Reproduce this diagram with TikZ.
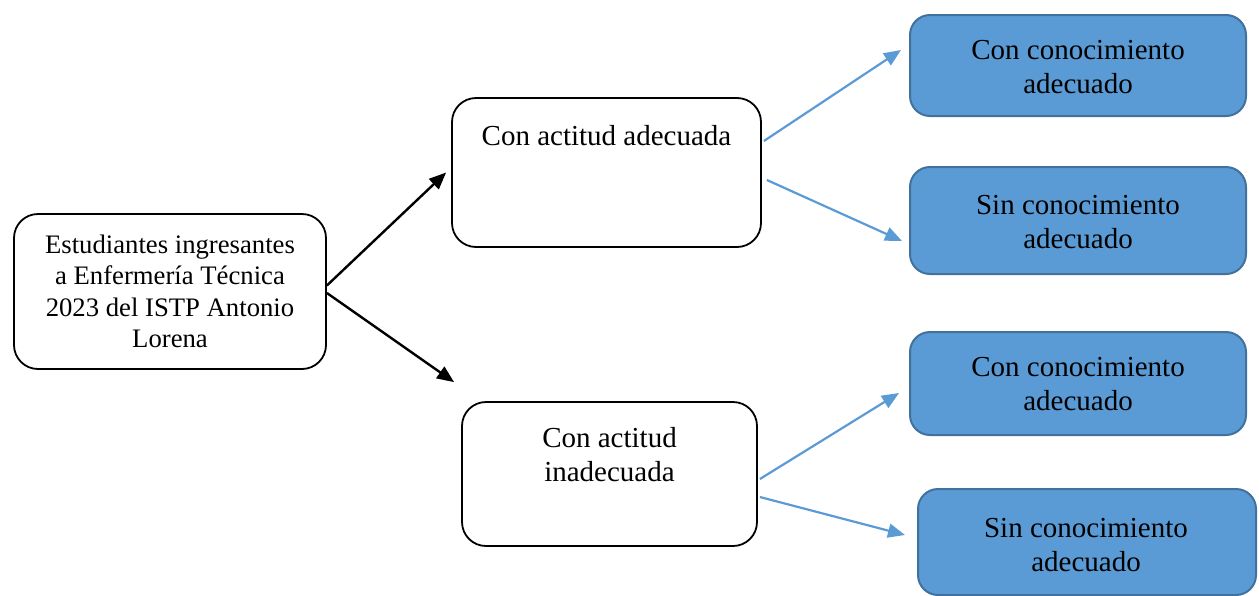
\documentclass[tikz,border=0pt]{standalone}
\usepackage{fontspec}
\setmainfont{Liberation Serif}
\usetikzlibrary{arrows.meta,calc}
\definecolor{bfill}{HTML}{5B9BD5}
\definecolor{bedge}{HTML}{41719C}
\tikzset{
  whitebox/.style={draw=black, line width=1.8pt, rounded corners=24pt, fill=white, inner sep=0pt},
  bluebox/.style={draw=bedge, line width=2pt, rounded corners=20pt, fill=bfill, align=center, inner sep=0pt,
    font=\fontsize{29}{34}\selectfont},
  bigtxt/.style={align=center, inner sep=0pt, font=\fontsize{29}{34}\selectfont},
  blackarrow/.style={line width=2.4pt, -{Triangle[length=17pt,width=14pt]}},
  bluearrow/.style={draw=bfill, line width=2.2pt, -{Triangle[length=17pt,width=14pt]}, color=bfill}
}
\begin{document}
\begin{tikzpicture}[x=1pt,y=-1pt]
\useasboundingbox (0,0) rectangle (1259,595);
% source
\node[whitebox, minimum width=312pt, minimum height=155pt, align=center,
  font=\fontsize{26.7}{31.4}\selectfont] (src) at (170,291.5)
  {Estudiantes ingresantes\\a Enfermería Técnica\\2023 del ISTP Antonio\\Lorena};
% attitude boxes
\node[whitebox, minimum width=309pt, minimum height=149pt] (a1) at (606.5,172.5) {};
\node[bigtxt] (a1t) at (606.5,136) {Con actitud adecuada};
\node[whitebox, minimum width=295pt, minimum height=144pt] (a2) at (609.5,474) {};
\node[bigtxt] (a2t) at (609.5,455) {Con actitud\\inadecuada};
% knowledge boxes
\node[bluebox, minimum width=336pt, minimum height=101pt] (b1) at (1078,65.5) {};
\node[bigtxt] (b1t) at (1078,67.5) {Con conocimiento\\adecuado};
\node[bluebox, minimum width=336pt, minimum height=107pt] (b2) at (1078,220.5) {};
\node[bigtxt] (b2t) at (1078,222.5) {Sin conocimiento\\adecuado};
\node[bluebox, minimum width=336pt, minimum height=103pt] (b3) at (1078,383.5) {};
\node[bigtxt] (b3t) at (1078,384) {Con conocimiento\\adecuado};
\node[bluebox, minimum width=338pt, minimum height=106pt] (b4) at (1087,542) {};
\node[bigtxt] (b4t) at (1086,545) {Sin conocimiento\\adecuado};
% black arrows
\draw[blackarrow] ($(src.east)+(0,-6)$) -- ($(a1.west)+(-5,0)$);
\draw[blackarrow] ($(src.east)+(0,1.5)$) -- ($(a2.north west)+(-7,-19)$);
% blue arrows
\draw[bluearrow] ($(a1.east)+(2,-31.5)$) -- ($(b1.west)+(-8,-15.5)$);
\draw[bluearrow] ($(a1.east)+(5,7.5)$) -- ($(b2.west)+(-7,20.5)$);
\draw[bluearrow] ($(a2.east)+(2,5)$) -- ($(b3.west)+(-10,9.5)$);
\draw[bluearrow] ($(a2.east)+(2,23)$) -- ($(b4.west)+(-12,-7)$);
\end{tikzpicture}
\end{document}
